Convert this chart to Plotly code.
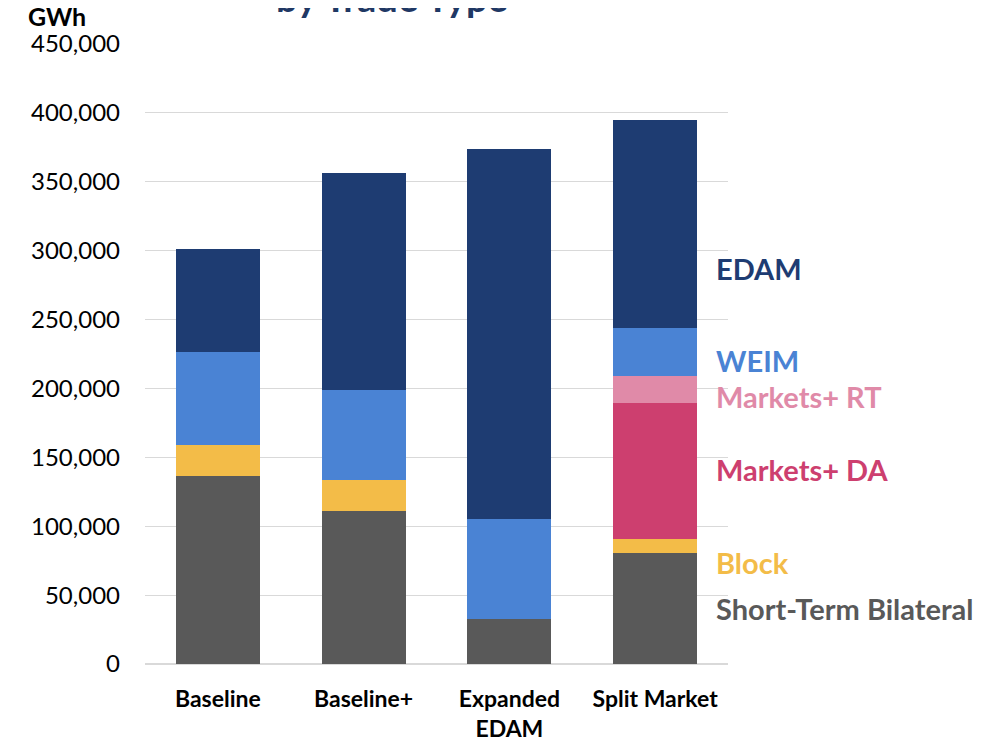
import plotly.graph_objects as go

categories = ["Baseline", "Baseline+", "Expanded<br>EDAM", "Split Market"]
short_term_bilateral = [136200, 111000, 33000, 80400]
block = [22500, 22800, 0, 10300]
markets_da = [0, 0, 0, 98500]
markets_rt = [0, 0, 0, 19600]
weim = [67500, 64900, 72500, 34800]
edam = [75300, 158000, 268500, 151400]

y_ticks = [0, 50000, 100000, 150000, 200000, 250000, 300000, 350000, 400000, 450000]

series = [
    ("Short-Term Bilateral", short_term_bilateral, "#595959", 40000),
    ("Block", block, "#F3BC48", 74000),
    ("Markets+ DA", markets_da, "#CD3F6F", 141000),
    ("Markets+ RT", markets_rt, "#E08AA8", 194000),
    ("WEIM", weim, "#4A83D4", 220000),
    ("EDAM", edam, "#1E3C72", 287000),
]

FONT = "Lato"
fig = go.Figure()
for name, vals, color, _ in series:
    fig.add_trace(go.Bar(name=name, x=categories, y=vals,
                         marker=dict(color=color, line=dict(width=0)), width=0.575))

for name, vals, color, ylab in series:
    fig.add_annotation(text="<b>%s</b>" % name, xref="paper", yref="y", x=0.976, y=ylab,
                       xanchor="left", yanchor="middle", showarrow=False,
                       font=dict(family=FONT, size=29, color=color))

fig.add_annotation(text="<b>by Trade Type</b>", xref="paper", yref="paper", x=0.424, y=1.034,
                   xanchor="center", yanchor="bottom", showarrow=False,
                   font=dict(family=FONT, size=38, color="#1F3864"))
fig.add_annotation(text="<b>GWh</b>", xref="paper", yref="paper", x=-0.151, y=1.043,
                   xanchor="center", yanchor="middle", showarrow=False,
                   font=dict(family=FONT, size=25, color="#000000"))

fig.update_layout(
    barmode="stack",
    width=986, height=739,
    margin=dict(l=137, r=266, t=35, b=83, autoexpand=False),
    plot_bgcolor="white", paper_bgcolor="white",
    showlegend=False,
    font=dict(family=FONT, color="#000000"),
)
fig.update_yaxes(range=[0, 450700], tickvals=y_ticks, tickformat=",d", automargin=False,
                 gridcolor="#D9D9D9", gridwidth=1.3, zeroline=True, zerolinecolor="#D9D9D9",
                 zerolinewidth=1.5, tickfont=dict(family=FONT, size=24, color="#000000"),
                 ticklabelstandoff=24, showline=False)
fig.update_xaxes(tickvals=categories, automargin=False,
                 ticktext=["<b>%s</b>" % c.replace("<br>", "</b><br><b>") for c in categories],
                 tickfont=dict(family=FONT, size=23, color="#000000"), showline=False,
                 ticklabelstandoff=19)

fig.write_html("out.html")
